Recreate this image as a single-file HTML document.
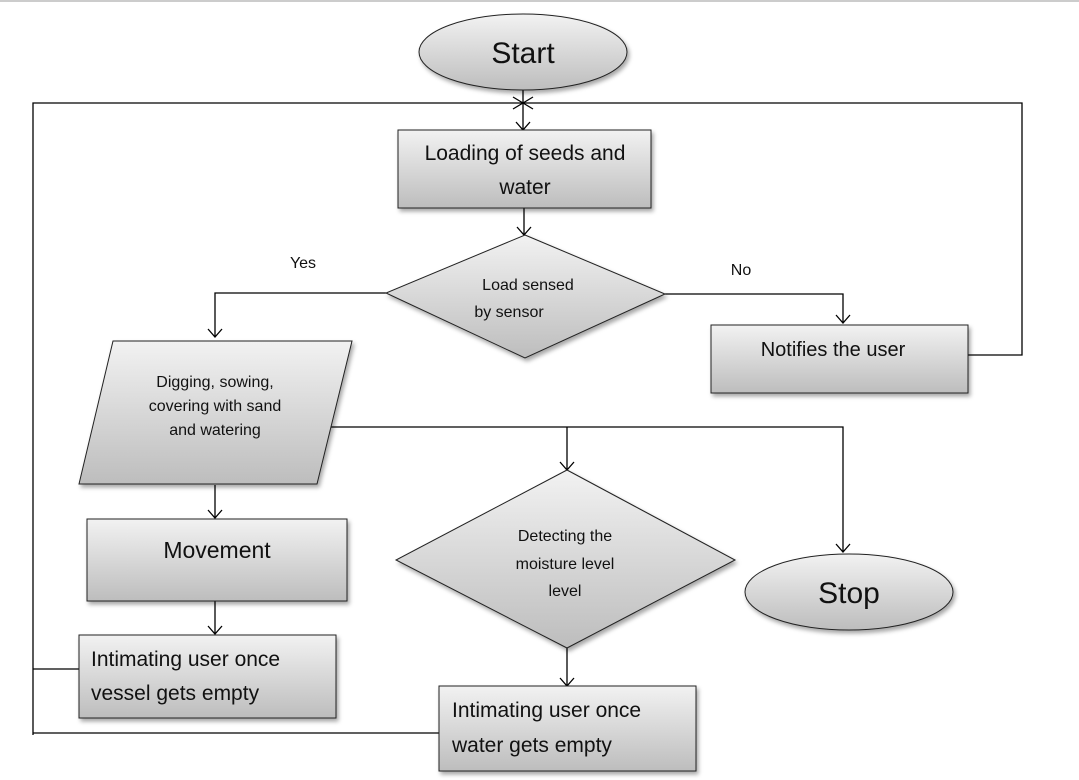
<!DOCTYPE html>
<html><head><meta charset="utf-8"><style>
html,body{margin:0;padding:0;background:#fff;}
svg{display:block;}
text{font-family:"Liberation Sans",sans-serif;fill:#111;}
</style></head><body>
<svg width="1079" height="780" viewBox="0 0 1079 780" xmlns="http://www.w3.org/2000/svg">
<defs>
<linearGradient id="g" x1="0" y1="0" x2="0" y2="1">
<stop offset="0" stop-color="#f2f2f2"/><stop offset="1" stop-color="#bdbdbd"/>
</linearGradient>
<filter id="s" x="-10%" y="-10%" width="130%" height="130%">
<feDropShadow dx="2" dy="3" stdDeviation="2" flood-color="#000" flood-opacity="0.35"/>
</filter>
</defs>
<line x1="0" y1="1" x2="1079" y2="1" stroke="#ccc" stroke-width="2"/>
<g stroke="#000" stroke-width="1.3" fill="none">
<!-- outer loop -->
<polyline points="968,355 1022,355 1022,103 33,103 33,735"/>
<line x1="79" y1="669" x2="33" y2="669"/>
<line x1="439" y1="733" x2="33" y2="733"/>
<!-- start to box1 -->
<line x1="523" y1="90" x2="523" y2="130"/>
<polyline points="516,122 523,130 530,122"/>
<line x1="513" y1="97" x2="533" y2="109"/><line x1="513" y1="109" x2="533" y2="97"/>
<line x1="524" y1="208" x2="524" y2="235"/>
<polyline points="517,227 524,235 531,227"/>
<!-- yes -->
<polyline points="386,293 215,293 215,337"/>
<polyline points="208,329 215,337 222,329"/>
<!-- no -->
<polyline points="665,294 843,294 843,323"/>
<polyline points="836,315 843,323 850,315"/>
<!-- parallelogram right -->
<polyline points="330,427 843,427 843,552"/>
<polyline points="836,544 843,552 850,544"/>
<line x1="567" y1="427" x2="567" y2="470"/>
<polyline points="560,462 567,470 574,462"/>
<line x1="567" y1="648" x2="567" y2="686"/>
<polyline points="560,678 567,686 574,678"/>
<line x1="215" y1="485" x2="215" y2="518"/>
<polyline points="208,510 215,518 222,510"/>
<line x1="215" y1="601" x2="215" y2="634"/>
<polyline points="208,626 215,634 222,626"/>
</g>
<g stroke="#222" stroke-width="1" fill="url(#g)" filter="url(#s)">
<ellipse cx="523" cy="52" rx="104" ry="38"/>
<rect x="398" y="130" width="253" height="78"/>
<polygon points="525,235 665,294 525,358 386,293"/>
<rect x="711" y="325" width="257" height="68"/>
<polygon points="113,341 352,341 317,484 79,484"/>
<polygon points="567,470 735,560 567,648 396,560"/>
<ellipse cx="849" cy="592" rx="104" ry="38"/>
<rect x="87" y="519" width="260" height="82"/>
<rect x="79" y="635" width="257" height="83"/>
<rect x="439" y="686" width="257" height="85"/>
</g>
<g text-anchor="middle">
<text x="523" y="63" font-size="30">Start</text>
<text x="525" y="160" font-size="21">Loading of seeds and</text>
<text x="525" y="194" font-size="21">water</text>
<text x="528" y="290" font-size="16">Load sensed</text>
<text x="509" y="317" font-size="16">by sensor</text>
<text x="303" y="268" font-size="16">Yes</text>
<text x="741" y="275" font-size="16">No</text>
<text x="833" y="356" font-size="20">Notifies the user</text>
<text x="215" y="387" font-size="16">Digging, sowing,</text>
<text x="215" y="411" font-size="16">covering with sand</text>
<text x="215" y="435" font-size="16">and watering</text>
<text x="565" y="541" font-size="16">Detecting the</text>
<text x="565" y="569" font-size="16">moisture level</text>
<text x="565" y="596" font-size="16">level</text>
<text x="849" y="603" font-size="30">Stop</text>
<text x="217" y="558" font-size="23">Movement</text>
</g>
<g font-size="21">
<text x="91" y="666">Intimating user once</text>
<text x="91" y="700">vessel gets empty</text>
<text x="452" y="717">Intimating user once</text>
<text x="452" y="752">water gets empty</text>
</g>
</svg>
</body></html>
